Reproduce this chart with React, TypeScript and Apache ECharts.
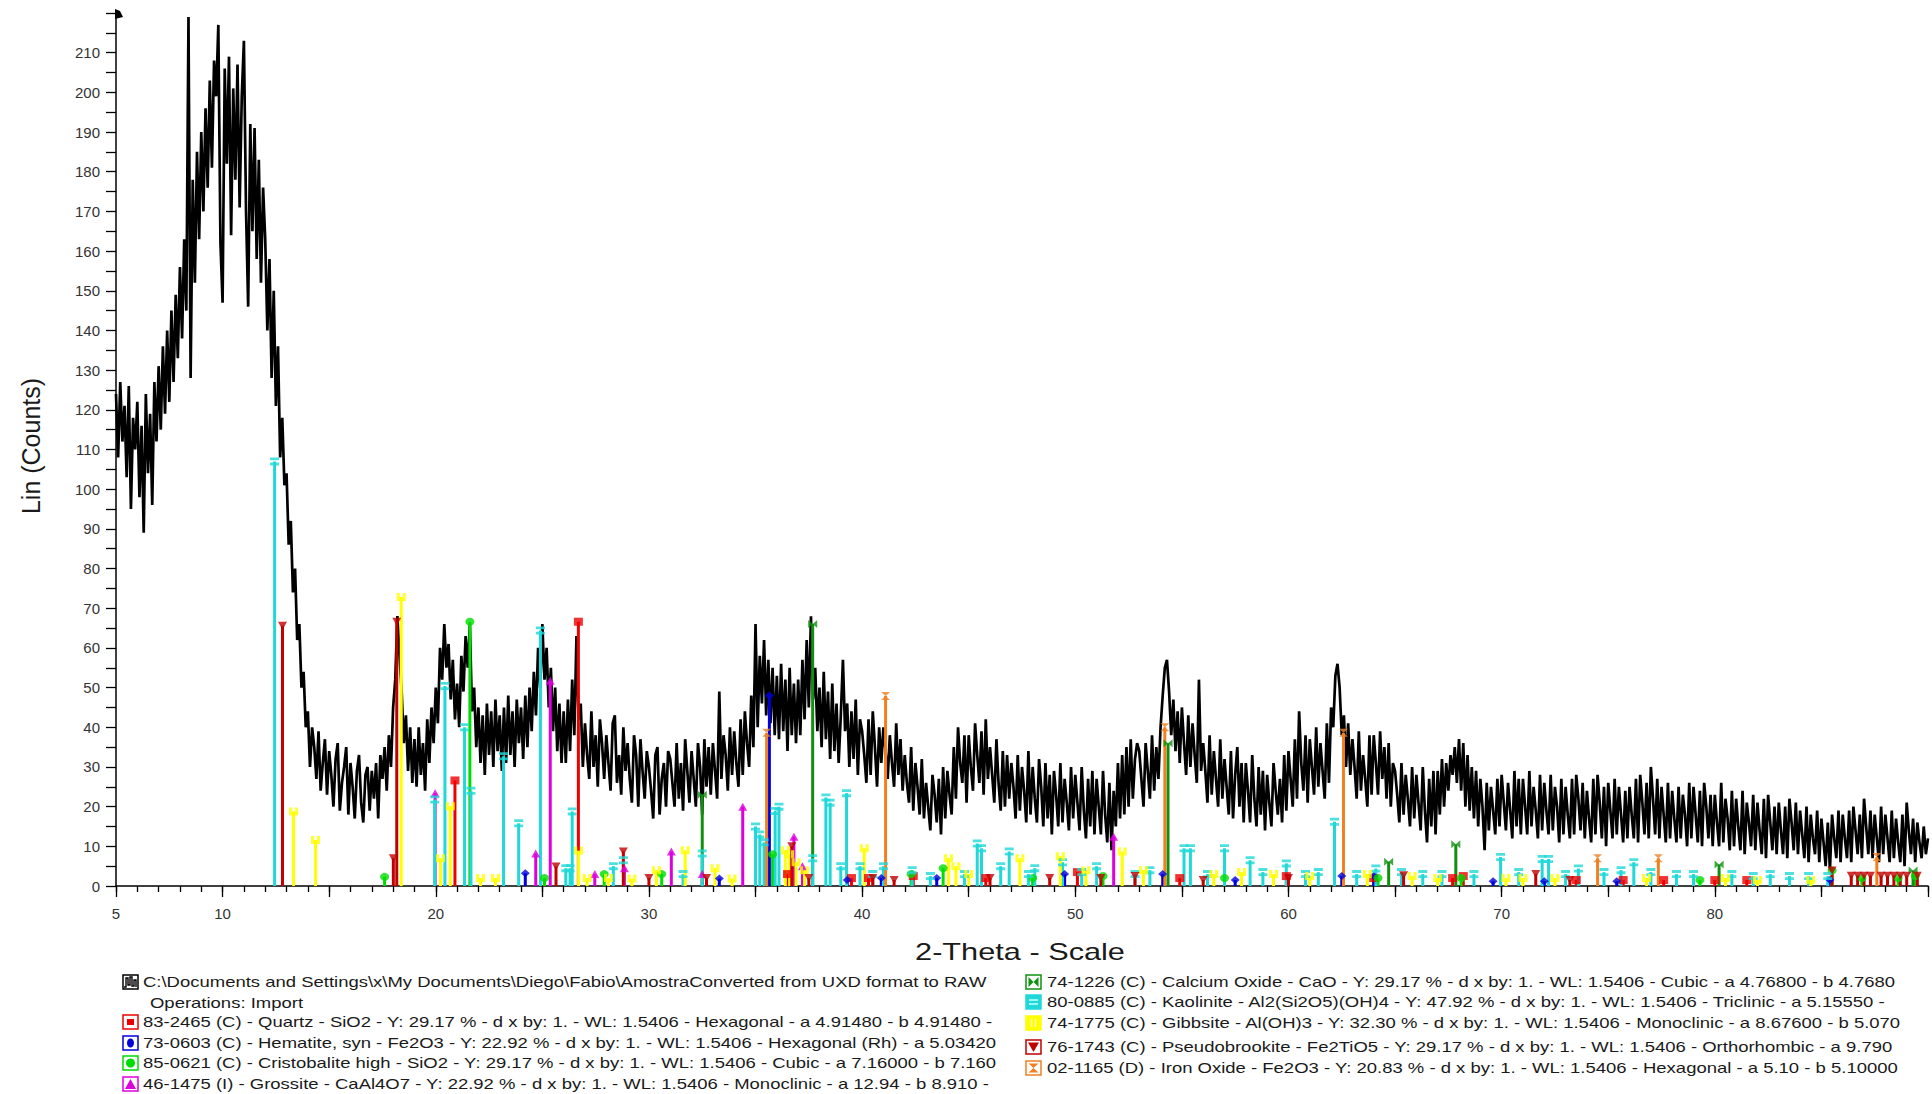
import React, { useEffect, useRef } from "react";
import * as echarts from "echarts";

// ---------- scan (black pattern): 2-theta from 5.0 to 90.0, step 0.1 ----------
const scanStart = 5.0;
const scanStep = 0.1;
const intensity = [
  124,108,127,112,121,103,126,95,118,110,
  122,98,116,89,124,104,119,96,127,112,
  131,115,136,119,140,122,145,127,149,133,
  156,138,163,145,219,128,178,152,185,163,
  190,170,196,176,203,181,208,199,217,162,
  147,206,182,209,164,201,178,207,171,199,
  213,170,146,192,165,191,158,183,152,176,
  163,140,158,128,150,121,136,108,118,101,
  104,86,92,74,80,62,66,50,54,40,
  44,30,40,35,27,39,24,31,37,23,
  34,28,20,32,36,19,26,30,35,18,
  31,25,17,29,33,21,16,28,30,19,
  29,22,31,17,33,27,35,24,38,30,
  45,52,68,58,49,36,43,29,40,26,
  37,25,40,28,36,24,42,31,45,36,
  50,41,60,52,66,55,61,47,57,42,
  51,40,58,49,63,55,66,44,50,35,
  45,31,43,28,46,33,44,30,47,34,
  43,29,45,31,48,33,44,30,47,36,
  45,32,48,35,50,39,54,43,60,50,
  66,52,60,45,55,39,50,34,46,31,
  44,31,47,34,52,38,63,42,46,30,
  41,33,27,44,30,38,25,42,36,27,
  38,31,24,41,43,26,33,23,40,29,
  36,27,21,38,33,20,37,29,22,34,
  30,24,17,33,35,18,27,31,20,34,
  32,26,20,36,22,31,19,37,29,21,
  34,27,20,36,30,18,37,25,35,23,
  36,29,22,49,27,38,33,24,40,28,
  39,31,25,42,28,44,36,30,48,35,
  66,40,58,46,62,43,57,41,55,38,
  53,37,56,39,52,34,55,38,51,36,
  52,38,57,42,62,45,68,47,55,39,
  50,35,54,37,49,32,51,34,46,31,
  43,57,39,46,30,44,32,47,28,42,
  39,33,26,42,28,44,35,25,40,31,
  40,34,27,38,31,25,41,28,37,24,
  33,26,21,35,19,31,25,18,32,17,
  26,20,14,28,23,16,27,13,30,17,
  29,23,18,35,22,40,31,26,38,21,
  38,30,24,41,33,26,39,23,42,27,
  35,28,21,37,26,19,34,20,33,22,
  31,25,17,33,19,30,24,16,34,18,
  30,22,16,32,25,15,31,17,28,13,
  29,23,15,31,16,27,21,14,30,17,
  28,21,14,30,19,12,27,15,29,13,
  27,20,13,29,18,11,26,9,24,15,
  31,17,33,18,35,20,37,22,32,36,
  34,27,20,36,29,22,38,24,35,27,
  40,48,55,57,49,38,47,34,44,31,
  45,36,28,43,30,41,33,26,52,29,
  36,29,21,38,23,34,27,20,37,22,
  32,25,18,34,17,28,35,20,31,16,
  31,24,16,33,22,15,30,18,29,14,
  28,21,15,31,24,18,27,16,33,19,
  34,27,20,37,22,44,31,24,38,21,
  37,30,23,40,25,36,29,22,41,26,
  45,40,53,56,50,38,43,30,41,28,
  37,30,22,39,24,33,27,20,38,23,
  38,31,23,39,27,35,22,36,20,31,
  29,23,16,31,18,28,22,15,30,17,
  28,21,14,30,19,11,27,15,29,13,
  29,18,32,20,31,24,33,28,35,26,
  37,24,36,20,33,19,30,17,29,15,
  27,20,9,26,14,25,19,13,27,15,
  28,21,14,26,19,12,29,15,27,13,
  27,20,13,29,15,25,19,12,28,14,
  26,19,13,28,14,25,20,11,27,13,
  25,18,12,27,13,28,22,14,26,12,
  24,17,11,27,13,28,21,12,25,10,
  26,19,12,27,13,25,18,11,24,12,
  25,18,12,27,11,28,21,13,26,12,
  30,22,13,27,12,25,18,11,26,12,
  24,17,11,25,12,23,18,10,26,12,
  25,18,11,24,10,26,20,12,23,10,
  23,16,10,26,11,22,17,9,24,10,
  22,15,9,24,8,21,16,10,23,9,
  21,14,8,22,7,23,16,9,20,8,
  21,14,8,20,7,22,16,9,21,8,
  19,13,7,20,6,18,12,8,19,6,
  17,11,5,16,4,18,12,7,19,6,
  18,12,7,19,6,20,14,8,18,7,
  22,15,8,19,7,18,12,6,20,8,
  18,12,6,19,7,17,11,6,18,5,
  21,14,8,17,6,16,11,7,15,8,
  12,
];

// ---------- reference patterns: [2-theta, height] ----------
const quartzPeaks = [[20.9,26.6],[26.69,66.6],[36.5,3],[39.5,2],[40.3,2],[42.4,2.5],[45.8,2],[50.1,3.5],[54.9,2],[59.9,2.5],[64.0,2],[67.7,2],[68.2,2.5],[73.5,1.5],[75.7,1.5],[77.6,1.5],[80.0,1.5],[81.5,1.5]];
const hematitePeaks = [[24.2,3.2],[33.3,1.9],[35.65,48],[39.3,1.5],[40.9,2],[43.5,2],[49.5,3],[54.1,3],[57.5,1.5],[62.5,2.5],[64.0,2.5],[69.6,1.2],[72.0,1.2],[75.4,1.2],[85.4,1.5]];
const cristobalitePeaks = [[17.6,2.3],[21.6,66.6],[25.1,2],[27.9,3],[30.6,3],[35.8,8],[42.3,3],[43.8,4.5],[48.0,2],[51.3,2.5],[57.0,2],[64.2,2],[68.1,2],[79.3,1.5],[85.5,3.9],[86.9,2],[88.6,2],[89.4,2.5]];
const grossitePeaks = [[19.97,23.4],[24.69,8.2],[25.37,51.7],[27.46,3],[28.85,4.5],[31.05,8.7],[32.5,3],[34.4,20],[36.8,12.4],[37.2,5],[51.8,12.4]];
const calciumOxidePeaks = [[32.5,23],[37.68,66],[54.35,36],[64.7,6.1],[67.85,10.5],[80.2,5.4],[89.3,3.9]];
const kaolinitePeaks = [[12.44,107],[19.95,21.8],[20.43,50.4],[21.35,40],[21.65,24],[23.18,32.7],[23.89,15.8],[24.91,64.4],[26.1,4.5],[26.3,4.5],[26.4,18.8],[28.33,5],[28.8,6.5],[31.6,3],[32.5,8.2],[35.0,15],[35.2,13],[35.4,11],[35.92,18.9],[36.1,20],[37.68,7],[38.3,22.3],[38.5,21],[39.0,5],[39.27,23.4],[39.9,5],[40.5,3],[41.0,5],[42.35,4],[43.2,2.5],[44.8,3],[45.4,10.7],[45.6,9.5],[46.5,5],[46.9,8.7],[47.8,3],[48.1,4.5],[49.4,6],[50.3,3.5],[51.0,5],[52.8,3],[53.5,4],[55.1,9.5],[55.4,9.5],[56.2,3],[57.0,9.5],[58.2,6.5],[58.8,3.5],[59.9,5.7],[60.8,3],[61.4,3.5],[62.16,16.2],[63.2,3],[64.1,4.4],[65.3,3.5],[66.3,3],[67.2,3],[68.7,3],[69.95,7.3],[70.8,3.5],[71.9,6.8],[72.2,6.8],[73.0,3],[73.6,4.4],[74.8,3.5],[75.6,4],[76.2,6],[77.0,3.5],[78.2,3],[79.0,3],[80.8,3],[81.8,2.5],[82.6,3],[83.5,2.5],[84.4,2.5],[85.3,2.5]];
const gibbsitePeaks = [[13.33,18.8],[14.36,11.6],[18.38,72.8],[20.22,7],[20.68,20.1],[22.1,2],[22.8,2],[26.7,8.9],[27.1,2],[28.1,2],[29.2,1.9],[30.35,4],[31.7,9],[33.1,4.5],[33.9,1.9],[36.4,9],[36.6,8],[36.9,6],[37.3,4],[40.1,9.5],[44.05,7],[44.4,5],[45.0,3],[47.4,7],[49.3,7.5],[50.5,4],[52.2,8.7],[53.2,4],[56.5,3],[57.8,3.5],[59.3,3],[61.0,2.5],[63.7,3],[65.8,2.5],[67.0,2],[70.2,2],[71.0,2],[72.5,2],[76.8,2],[80.5,2],[82.0,1.5],[84.5,1.5]];
const pseudobrookitePeaks = [[12.81,65.6],[18.01,7],[18.17,66.6],[25.64,4.9],[28.8,8.7],[30.0,2],[32.7,2],[36.7,10],[37.5,2],[40.5,2],[41.5,1.5],[46.0,2],[48.8,2],[51.2,2],[52.8,2.5],[56.0,1.5],[60.0,2],[65.4,2.7],[71.6,3],[73.2,1.5],[85.5,3.9],[86.4,2.6],[86.7,2.6],[87.0,2.6],[87.3,2.6],[87.8,2.6],[88.1,2.6],[88.4,2.6],[88.7,2.6],[89.0,2.6],[89.5,2.6]];
const ironOxidePeaks = [[35.52,38.6],[41.1,47.9],[54.2,40],[62.58,38.6],[74.5,7],[77.35,7],[87.6,7.3]];

// ---------- texts ----------
const xAxisTitle = "2-Theta - Scale";
const yAxisTitle = "Lin (Counts)";
const legendLeft = [
  "C:\\Documents and Settings\\x\\My Documents\\Diego\\Fabio\\AmostraConverted from UXD format to RAW",
  "Operations: Import",
  "83-2465 (C) - Quartz - SiO2 - Y: 29.17 % - d x by: 1. - WL: 1.5406 - Hexagonal - a 4.91480 - b 4.91480 -",
  "73-0603 (C) - Hematite, syn - Fe2O3 - Y: 22.92 % - d x by: 1. - WL: 1.5406 - Hexagonal (Rh) - a 5.03420",
  "85-0621 (C) - Cristobalite high - SiO2 - Y: 29.17 % - d x by: 1. - WL: 1.5406 - Cubic - a 7.16000 - b 7.160",
  "46-1475 (I) - Grossite - CaAl4O7 - Y: 22.92 % - d x by: 1. - WL: 1.5406 - Monoclinic - a 12.94 - b 8.910 -",
];
const legendRight = [
  "74-1226 (C) - Calcium Oxide - CaO - Y: 29.17 % - d x by: 1. - WL: 1.5406 - Cubic - a 4.76800 - b 4.7680",
  "80-0885 (C) - Kaolinite - Al2(Si2O5)(OH)4 - Y: 47.92 % - d x by: 1. - WL: 1.5406 - Triclinic - a 5.15550 -",
  "74-1775 (C) - Gibbsite - Al(OH)3 - Y: 32.30 % - d x by: 1. - WL: 1.5406 - Monoclinic - a 8.67600 - b 5.070",
  "76-1743 (C) - Pseudobrookite - Fe2TiO5 - Y: 29.17 % - d x by: 1. - WL: 1.5406 - Orthorhombic - a 9.790",
  "02-1165 (D) - Iron Oxide - Fe2O3 - Y: 20.83 % - d x by: 1. - WL: 1.5406 - Hexagonal - a 5.10 - b 5.10000",
];

const SYM = {
  quartz: "rect",
  hematite: "diamond",
  cristobalite: "circle",
  grossite: "triangle",
  cao: "path://M0,0L5,5L0,10ZM10,0L5,5L10,10Z",
  kaolinite: "path://M0,0H10V3.5H0ZM0,6.5H10V10H0Z",
  gibbsite: "path://M0,0H3.5V10H0ZM6.5,0H10V10H6.5Z",
  pseudo: "path://M0,0H10L5,10Z",
  iron: "path://M0,0H10L5,5L10,10H0L5,5Z",
};

const phases = [
  { peaks: quartzPeaks, color: "#ee0000", symbol: SYM.quartz, icon: "square" },
  { peaks: hematitePeaks, color: "#0000dd", symbol: SYM.hematite, icon: "ellipse" },
  { peaks: cristobalitePeaks, color: "#00dd00", symbol: SYM.cristobalite, icon: "circle" },
  { peaks: grossitePeaks, color: "#dd00dd", symbol: SYM.grossite, icon: "triangleUp" },
  { peaks: calciumOxidePeaks, color: "#109010", symbol: SYM.cao, icon: "bowtie" },
  { peaks: kaolinitePeaks, color: "#20d8d8", symbol: SYM.kaolinite, icon: "equals" },
  { peaks: gibbsitePeaks, color: "#ffff00", symbol: SYM.gibbsite, icon: "bars" },
  { peaks: pseudobrookitePeaks, color: "#c00000", symbol: SYM.pseudo, icon: "triangleDown" },
  { peaks: ironOxidePeaks, color: "#f08020", symbol: SYM.iron, icon: "hourglass" },
];

const FONT = '"Liberation Sans", Arial, sans-serif';

function iconElements(kind: string, color: string, x: number, cy: number): any[] {
  const y = cy - 7;
  const els: any[] = [];
  const filled = kind === "equals" || kind === "bars";
  els.push({ type: "rect", shape: { x, y, width: 15, height: 14 }, style: { fill: filled ? color : "#fff", stroke: kind === "scan" ? "#000" : color, lineWidth: 1.5 } });
  const fill = { fill: color };
  switch (kind) {
    case "scan":
      els.push({ type: "polyline", shape: { points: [[x + 1, y + 12], [x + 3, y + 12], [x + 3, y + 3], [x + 5, y + 3], [x + 5, y + 10], [x + 7, y + 10], [x + 7, y + 2], [x + 9, y + 2], [x + 9, y + 11], [x + 11, y + 11], [x + 11, y + 5], [x + 13, y + 5], [x + 13, y + 12]] }, style: { stroke: "#000", lineWidth: 1.4, fill: null } });
      break;
    case "square":
      els.push({ type: "rect", shape: { x: x + 4, y: y + 4, width: 7, height: 6 }, style: fill });
      break;
    case "ellipse":
      els.push({ type: "ellipse", shape: { cx: x + 7.5, cy, rx: 3.5, ry: 4.5 }, style: fill });
      break;
    case "circle":
      els.push({ type: "circle", shape: { cx: x + 7.5, cy, r: 4.5 }, style: fill });
      break;
    case "triangleUp":
      els.push({ type: "polygon", shape: { points: [[x + 7.5, y + 2], [x + 13, y + 12], [x + 2, y + 12]] }, style: fill });
      break;
    case "triangleDown":
      els.push({ type: "polygon", shape: { points: [[x + 2, y + 2.5], [x + 13, y + 2.5], [x + 7.5, y + 12]] }, style: fill });
      break;
    case "bowtie":
      els.push({ type: "polygon", shape: { points: [[x + 2.5, y + 2], [x + 7.5, y + 7], [x + 2.5, y + 12]] }, style: fill });
      els.push({ type: "polygon", shape: { points: [[x + 12.5, y + 2], [x + 7.5, y + 7], [x + 12.5, y + 12]] }, style: fill });
      break;
    case "hourglass":
      els.push({ type: "polygon", shape: { points: [[x + 2.5, y + 2.5], [x + 12.5, y + 2.5], [x + 7.5, y + 7], [x + 12.5, y + 11.5], [x + 2.5, y + 11.5], [x + 7.5, y + 7]] }, style: fill });
      break;
    case "equals":
      els.push({ type: "line", shape: { x1: x + 3, y1: y + 5, x2: x + 12, y2: y + 5 }, style: { stroke: "#c8ffff", lineWidth: 1.5 } });
      els.push({ type: "line", shape: { x1: x + 3, y1: y + 9, x2: x + 12, y2: y + 9 }, style: { stroke: "#c8ffff", lineWidth: 1.5 } });
      break;
    case "bars":
      els.push({ type: "line", shape: { x1: x + 5.5, y1: y + 3, x2: x + 5.5, y2: y + 11 }, style: { stroke: "#fffbb0", lineWidth: 1.5 } });
      els.push({ type: "line", shape: { x1: x + 9.5, y1: y + 3, x2: x + 9.5, y2: y + 11 }, style: { stroke: "#fffbb0", lineWidth: 1.5 } });
      break;
  }
  return els;
}

function legendText(text: string, x: number, y: number): any {
  return {
    type: "text",
    x,
    y,
    scaleX: 1.232,
    style: { text, x: 0, y: 0, fill: "#1a1a1a", font: `15px ${FONT}`, verticalAlign: "middle", align: "left" },
  };
}

export default function App() {
  const ref = useRef<HTMLDivElement>(null);

  useEffect(() => {
    if (!ref.current) return;
    const chart = echarts.init(ref.current, null, { renderer: "svg" });

    const scanData = intensity.map((v, i) => [+(scanStart + i * scanStep).toFixed(2), v]);

    const stickSeries: any[] = [];
    const markerSeries: any[] = [];
    phases.forEach((ph) => {
      stickSeries.push({
        type: "custom",
        xAxisIndex: 0,
        yAxisIndex: 0,
        silent: true,
        z: 3,
        data: ph.peaks,
        encode: { x: 0, y: 1 },
        renderItem: (params: any, api: any) => {
          const xv = api.value(0);
          const yv = api.value(1);
          const a = api.coord([xv, 0]);
          const b = api.coord([xv, yv]);
          return {
            type: "line",
            shape: { x1: a[0], y1: a[1], x2: b[0], y2: b[1] },
            style: { stroke: ph.color, lineWidth: 3 },
          };
        },
      });
      markerSeries.push({
        type: "scatter",
        xAxisIndex: 0,
        yAxisIndex: 0,
        silent: true,
        z: 4,
        data: ph.peaks,
        symbol: ph.symbol,
        symbolSize: [9, 8],
        itemStyle: { color: ph.color },
      });
    });

    // legend graphics
    const graphics: any[] = [];
    const leftRows = [982, 1003, 1022, 1043, 1063, 1084];
    const leftIcons = ["scan", null, "square", "ellipse", "circle", "triangleUp"];
    const leftColors = ["#000", null, phases[0].color, phases[1].color, phases[2].color, phases[3].color];
    legendLeft.forEach((t, i) => {
      const k = leftIcons[i];
      if (k) graphics.push(...iconElements(k, leftColors[i] as string, 123, leftRows[i]));
      graphics.push(legendText(t, i === 1 ? 150 : 143, leftRows[i]));
    });
    const rightRows = [982, 1002, 1023, 1047, 1068];
    legendRight.forEach((t, i) => {
      const ph = phases[4 + i];
      graphics.push(...iconElements(ph.icon, ph.color, 1026, rightRows[i]));
      graphics.push(legendText(t, 1047, rightRows[i]));
    });
    // axis titles
    graphics.push({
      type: "text",
      x: 1020,
      y: 952,
      scaleX: 1.28,
      style: { text: xAxisTitle, x: 0, y: 0, fill: "#1a1a1a", font: `24px ${FONT}`, align: "center", verticalAlign: "middle" },
    });
    graphics.push({
      type: "text",
      x: 31,
      y: 446,
      rotation: Math.PI / 2,
      style: { text: yAxisTitle, x: 0, y: 0, fill: "#1a1a1a", font: `25px ${FONT}`, align: "center", verticalAlign: "middle" },
    });
    // small cursor flag at the top of the y axis
    graphics.push({
      type: "polygon",
      shape: { points: [[115, 9], [120, 11], [123, 17], [115, 19]] },
      style: { fill: "#000" },
    });

    chart.setOption({
      animation: false,
      backgroundColor: "#ffffff",
      grid: { left: 116, right: 4, top: 13, bottom: 208, containLabel: false },
      xAxis: [
        {
          type: "value",
          min: 5,
          max: 90,
          interval: 1,
          axisLine: { show: true, onZero: false, lineStyle: { color: "#000", width: 1.5 } },
          axisTick: { show: true, length: 6, lineStyle: { color: "#000", width: 1.3 } },
          axisLabel: {
            formatter: (v: number) => (v === 5 || (v % 10 === 0 && v <= 80) ? String(v) : ""),
            color: "#333",
            fontSize: 15,
            fontFamily: FONT,
            margin: 20,
          },
          splitLine: { show: false },
        },
        {
          type: "value",
          min: 5,
          max: 90,
          interval: 5,
          position: "bottom",
          axisLine: { show: false },
          axisTick: { show: true, length: 11, lineStyle: { color: "#000", width: 1.3 } },
          axisLabel: { show: false },
          splitLine: { show: false },
        },
      ],
      yAxis: {
        type: "value",
        min: 0,
        max: 220,
        interval: 5,
        axisLine: { show: true, lineStyle: { color: "#000", width: 1.5 } },
        axisTick: { show: true, length: 10, lineStyle: { color: "#000", width: 1.3 } },
        axisLabel: {
          formatter: (v: number) => (v % 10 === 0 && v <= 210 ? String(v) : ""),
          color: "#333",
          fontSize: 15,
          fontFamily: FONT,
          margin: 16,
        },
        splitLine: { show: false },
      },
      graphic: graphics,
      series: [
        {
          type: "line",
          xAxisIndex: 0,
          yAxisIndex: 0,
          data: scanData,
          showSymbol: false,
          symbol: "none",
          silent: true,
          z: 2,
          lineStyle: { color: "#000", width: 2.7, join: "miter" },
        },
        ...stickSeries,
        ...markerSeries,
      ],
    });

    return () => chart.dispose();
  }, []);

  return (
    <div
      ref={ref}
      style={{ position: "fixed", left: 0, top: 0, width: "1932px", height: "1094px", background: "#fff" }}
    />
  );
}
